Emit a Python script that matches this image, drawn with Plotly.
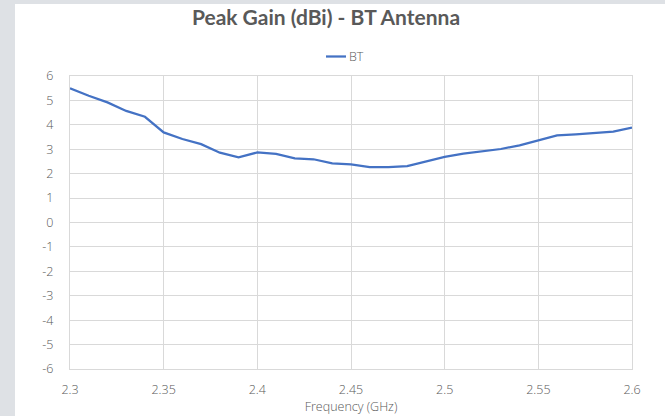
import plotly.graph_objects as go

freq = [2.30, 2.31, 2.32, 2.33, 2.34, 2.35, 2.36, 2.37, 2.38, 2.39, 2.40,
        2.41, 2.42, 2.43, 2.44, 2.45, 2.46, 2.47, 2.48, 2.49, 2.50,
        2.51, 2.52, 2.53, 2.54, 2.55, 2.56, 2.57, 2.58, 2.59, 2.60]
gain_bt = [5.50, 5.19, 4.92, 4.57, 4.33, 3.69, 3.42, 3.21, 2.86, 2.67, 2.87,
           2.81, 2.63, 2.59, 2.42, 2.38, 2.27, 2.27, 2.31, 2.49, 2.69,
           2.82, 2.93, 3.01, 3.16, 3.38, 3.57, 3.61, 3.68, 3.72, 3.89]
x_ticks = [2.3, 2.35, 2.4, 2.45, 2.5, 2.55, 2.6]
x_tick_labels = ["2.3", "2.35", "2.4", "2.45", "2.5", "2.55", "2.6"]
y_ticks = [-6, -5, -4, -3, -2, -1, 0, 1, 2, 3, 4, 5, 6]
y_tick_labels = ["-6", "-5", "-4", "-3", "-2", "-1", "0", "1", "2", "3", "4", "5", "6"]
series_name = "BT"

W, H = 665, 416
ml, mr, mt, mb = 70, 33, 76, 47
pw, ph = W - ml - mr, H - mt - mb

def px_to_paper_x(px):
    return (px - ml) / pw

def px_to_paper_y(py):
    return (H - mb - py) / ph

line_color = "#4472C4"
txt = "#595959"
grid = "#d9d9d9"
tick_font = "Open Sans, Lato, sans-serif"

fig = go.Figure()
fig.add_trace(go.Scatter(
    x=freq, y=gain_bt, mode="lines", name=series_name,
    line=dict(color=line_color, width=2.25), showlegend=False,
))

fig.update_layout(
    width=W, height=H,
    margin=dict(l=ml, r=mr, t=mt, b=mb, autoexpand=False),
    paper_bgcolor="#dee1e5",
    plot_bgcolor="white",
    font=dict(family=tick_font, size=12, color=txt),
    title=dict(text="<b>Peak Gain (dBi) - BT Antenna</b>", x=326 / W, xanchor="center",
               y=1 - 18 / H, yanchor="middle",
               font=dict(size=21, color=txt, family="Lato, sans-serif")),
    showlegend=False,
    shapes=[
        dict(type="rect", xref="paper", yref="paper", layer="below",
             x0=px_to_paper_x(15), x1=px_to_paper_x(W + 5),
             y0=px_to_paper_y(H + 5), y1=px_to_paper_y(4),
             fillcolor="white", line=dict(width=0)),
        dict(type="line", xref="paper", yref="paper",
             x0=px_to_paper_x(326), x1=px_to_paper_x(346),
             y0=px_to_paper_y(56.5), y1=px_to_paper_y(56.5),
             line=dict(color=line_color, width=2.25)),
    ],
    annotations=[
        dict(text=series_name, xref="paper", yref="paper",
             x=px_to_paper_x(347), y=px_to_paper_y(56.5),
             xanchor="left", yanchor="middle", showarrow=False,
             font=dict(size=12.5, color=txt, family=tick_font, weight=300)),
    ],
)
fig.update_xaxes(
    range=[2.3, 2.6], tickvals=x_ticks, ticktext=x_tick_labels,
    showgrid=True, gridcolor=grid, gridwidth=1,
    showline=True, linecolor=grid, linewidth=1, mirror=True,
    zeroline=False, ticks="outside", ticklen=9, tickcolor="rgba(0,0,0,0)",
    tickfont=dict(size=12.5, color=txt, weight=300),
    title=dict(text="Frequency (GHz)", font=dict(size=12.5, color=txt, weight=300), standoff=4),
)
fig.update_yaxes(
    range=[-6, 6], tickvals=y_ticks, ticktext=y_tick_labels,
    showgrid=True, gridcolor=grid, gridwidth=1,
    showline=True, linecolor=grid, linewidth=1, mirror=True,
    zeroline=False, ticks="outside", ticklen=13, tickcolor="rgba(0,0,0,0)",
    tickfont=dict(size=12.5, color=txt, weight=300),
)

fig.write_html(
    "out.html",
    config={"displayModeBar": False},
    post_script="document.body.style.margin='0';document.body.style.overflow='hidden';",
)
